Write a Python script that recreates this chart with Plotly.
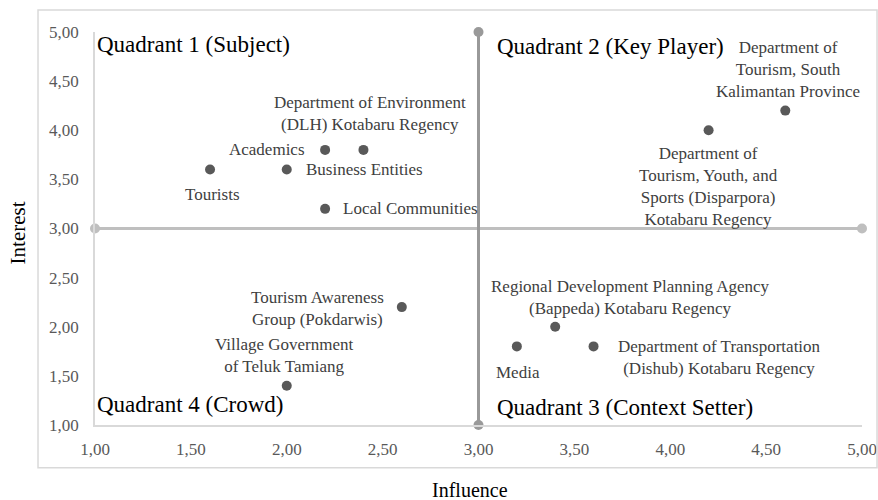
import plotly.graph_objects as go

names = ["Tourists", "Business Entities", "Academics",
         "Department of Environment<br>(DLH) Kotabaru Regency", "Local Communities",
         "Department of<br>Tourism, Youth, and<br>Sports (Disparpora)<br>Kotabaru Regency",
         "Department of<br>Tourism, South<br>Kalimantan Province",
         "Tourism Awareness<br>Group (Pokdarwis)",
         "Village Government<br>of Teluk Tamiang",
         "Regional Development Planning Agency<br>(Bappeda) Kotabaru Regency",
         "Media",
         "Department of Transportation<br>(Dishub) Kotabaru Regency"]
influence = [1.6, 2.0, 2.2, 2.4, 2.2, 4.2, 4.6, 2.6, 2.0, 3.4, 3.2, 3.6]
interest = [3.6, 3.6, 3.8, 3.8, 3.2, 4.0, 4.2, 2.2, 1.4, 2.0, 1.8, 1.8]

# label placement (anchor, pixel shifts)
label_anchor = ["center", "left", "right", "center", "left", "center", "center",
                "right", "center", "center", "center", "left"]
label_dx = [2, 17, -18, 7, 16, 0, 3, -16, -2, 75, 1, 22]
label_dy = [-25, 0, 0, 36, 0, -56, 41, -1, 30, 29, -26, -11]

quadrants = ["Quadrant 1 (Subject)", "Quadrant 2 (Key Player)",
             "Quadrant 3 (Context Setter)", "Quadrant 4 (Crowd)"]
quad_x = [1.0, 3.085, 3.085, 1.0]
quad_y = [4.87, 4.85, 1.18, 1.21]

ticks = [1.0, 1.5, 2.0, 2.5, 3.0, 3.5, 4.0, 4.5, 5.0]

serif = "Liberation Serif, Times New Roman, serif"

fig = go.Figure()
# quadrant lines
fig.add_trace(go.Scatter(x=[1, 5], y=[3, 3], mode="lines+markers",
                         line=dict(color="#bfbfbf", width=3),
                         marker=dict(size=10, color="#bfbfbf"),
                         hoverinfo="skip", showlegend=False, cliponaxis=False))
fig.add_trace(go.Scatter(x=[3, 3], y=[1, 5], mode="lines+markers",
                         line=dict(color="#999999", width=3),
                         marker=dict(size=10, color="#999999"),
                         hoverinfo="skip", showlegend=False, cliponaxis=False))
fig.add_trace(go.Scatter(x=influence, y=interest, mode="markers",
                         text=names, hoverinfo="text+x+y",
                         marker=dict(size=10, color="#595959"),
                         showlegend=False, cliponaxis=False))

for n, xv, yv, anc, dx, dy in zip(names, influence, interest, label_anchor,
                                   label_dx, label_dy):
    fig.add_annotation(x=xv, y=yv, text=n, showarrow=False, xanchor=anc,
                       yanchor="middle", xshift=dx, yshift=dy, align="center",
                       font=dict(family=serif, size=17, color="#404040"))

for q, qx, qy in zip(quadrants, quad_x, quad_y):
    fig.add_annotation(x=qx, y=qy, text=q, showarrow=False, xanchor="left",
                       yanchor="middle", font=dict(family=serif, size=23, color="#000000"))

fig.add_annotation(xref="paper", yref="paper", x=-0.1004, y=0.49, text="Interest",
                   textangle=-90, showarrow=False, xanchor="center", yanchor="middle",
                   font=dict(family=serif, size=21, color="#000000"))
fig.add_annotation(xref="paper", yref="paper", x=0.489, y=-0.165, text="Influence",
                   showarrow=False, xanchor="center", yanchor="middle",
                   font=dict(family=serif, size=20, color="#000000"))

# chart area border
fig.add_shape(type="rect", xref="paper", yref="paper",
              x0=-0.0743, x1=1.0196, y0=-0.109, y1=1.056,
              line=dict(color="#d9d9d9", width=1.5))

fig.update_layout(
    width=878, height=500,
    margin=dict(l=95, r=16, t=32, b=75, autoexpand=False),
    plot_bgcolor="white", paper_bgcolor="white",
    separators=",.",
    xaxis=dict(range=[1, 5], tickvals=ticks, tickformat=".2f", showgrid=False,
               zeroline=False, showline=True, linecolor="#d9d9d9", linewidth=1.5,
               ticks="", ticklabelstandoff=8, automargin=False,
               tickfont=dict(family=serif, size=17, color="#595959")),
    yaxis=dict(range=[1, 5], tickvals=ticks, tickformat=".2f", showgrid=False,
               zeroline=False, showline=True, linecolor="#d9d9d9", linewidth=1.5,
               ticks="", ticklabelstandoff=11, automargin=False,
               tickfont=dict(family=serif, size=17, color="#595959")),
)

fig.write_html("out.html", config={"displayModeBar": False},
               post_script="document.body.style.margin='0';document.body.style.overflow='hidden';")
